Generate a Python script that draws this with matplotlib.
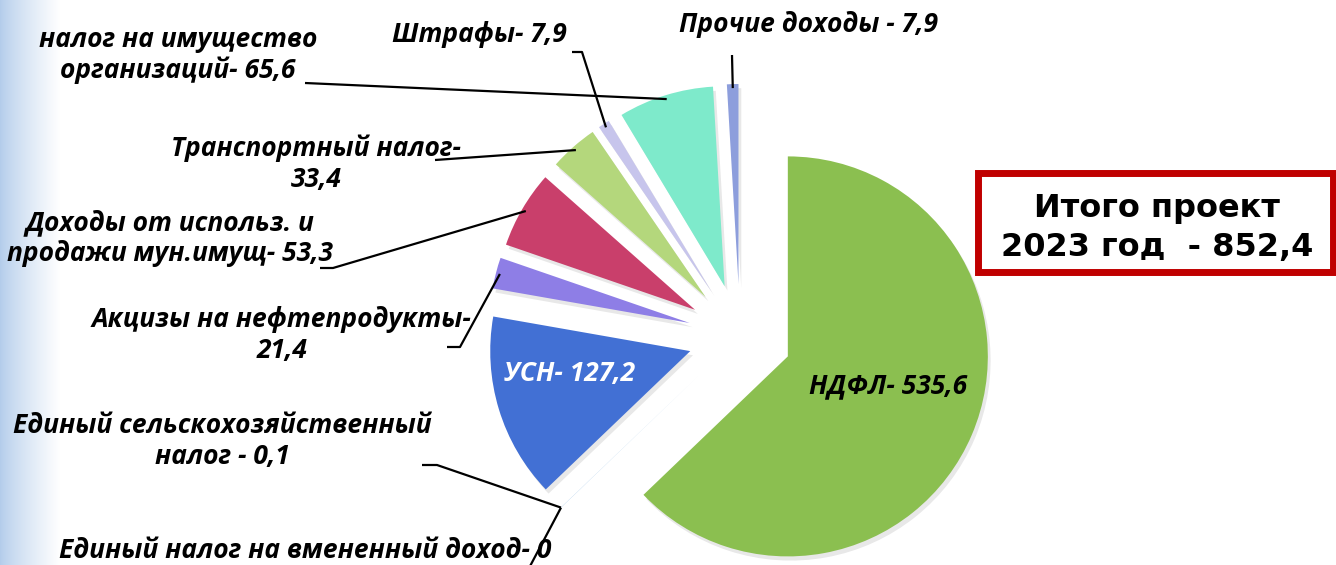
import numpy as np
import matplotlib
matplotlib.use("Agg")
import matplotlib.pyplot as plt
from matplotlib.patches import Rectangle
import matplotlib.patheffects as pe

# ---- data ----
categories = ["НДФЛ", "Единый налог на вмененный доход", "Единый сельскохозяйственный налог",
              "УСН", "Акцизы на нефтепродукты", "Доходы от использ. и продажи мун.имущ",
              "Транспортный налог", "Штрафы", "налог на имущество организаций", "Прочие доходы"]
values = [535.6, 0.0, 0.1, 127.2, 21.4, 53.3, 33.4, 7.9, 65.6, 7.9]
value_labels = ["535,6", "0", "0,1", "127,2", "21,4", "53,3", "33,4", "7,9", "65,6", "7,9"]
colors = ["#8BBF50", "#E07B39", "#5B9BD5", "#4270D4", "#8E7EE6", "#C93F6B",
          "#B4D77C", "#C7C5EC", "#7EEACB", "#8D9EDC"]
total_label = "Итого проект\n2023 год  - 852,4"

W, H = 1336, 565
CX, CY, R = 740, 336, 200  # pie centre / radius in pixels (layout)


def P(x, y):
    """pixel (from top-left) -> data units"""
    return ((x - CX) / R, (CY - y) / R)


fig = plt.figure(figsize=(W / 100, H / 100), dpi=100)
ax = fig.add_axes([0, 0, 1, 1])

# background gradient on the left edge
x0, y0 = P(0, H)
x1, y1 = P(60, 0)
grad = np.linspace(0, 1, 256)
c0 = np.array([0.70, 0.80, 0.92])
c1 = np.array([1.0, 1.0, 1.0])
t = np.clip(grad ** 0.8, 0, 1)
img = (c0[None, :] * (1 - t[:, None]) + c1[None, :] * t[:, None])[None, :, :]
ax.imshow(img, extent=(x0, x1, y0, y1), aspect="auto", zorder=0, interpolation="bilinear")

wedges, _ = ax.pie(values, colors=colors, startangle=90, counterclock=False,
                   explode=[0.26] * len(values), radius=1.0,
                   wedgeprops=dict(linewidth=0))
for w, v in zip(wedges, values):
    if v > 1:
        w.set_path_effects([pe.SimplePatchShadow(offset=(2, -3), shadow_rgbFace=(0.55, 0.55, 0.55),
                                                 alpha=0.2), pe.Normal()])

ax.set_xlim(P(0, 0)[0], P(W, 0)[0])
ax.set_ylim(P(0, H)[1], P(0, 0)[1])
ax.set_aspect("auto")
ax.axis("off")

FONT = ["Open Sans", "DejaVu Sans"]
lab_kw = dict(fontsize=19, fontweight="bold", fontstyle="italic", family=FONT,
              ha="center", va="center", linespacing=1.17, zorder=5)


def tip(i, frac=0.98):
    w = wedges[i]
    ang = np.deg2rad((w.theta1 + w.theta2) / 2)
    cx, cy = w.center
    return cx + w.r * frac * np.cos(ang), cy + w.r * frac * np.sin(ang)


def leader(i, pts_px, frac=0.98):
    pts = [P(*p) for p in pts_px] + [tip(i, frac)]
    xs, ys = zip(*pts)
    ax.plot(xs, ys, color="black", lw=1.6, zorder=4, solid_capstyle="butt")


# inside labels
ax.text(*P(570, 374), f"УСН- {value_labels[3]}", color="white", **lab_kw)
ax.text(*P(888, 386), f"НДФЛ- {value_labels[0]}", color="black", **lab_kw)

# outside labels with leader lines
ax.text(*P(178, 55), f"налог на имущество\nорганизаций- {value_labels[8]}", **lab_kw)
leader(8, [(305, 83)])

ax.text(*P(479, 34), f"Штрафы- {value_labels[7]}", **lab_kw)
leader(7, [(572, 52), (582, 52)])

ax.text(*P(808, 24), f"Прочие доходы - {value_labels[9]}", **lab_kw)
leader(9, [(732, 55)])

ax.text(*P(316, 164), f"Транспортный налог-\n{value_labels[6]}", **lab_kw)
leader(6, [(435, 160)])

ax.text(*P(170, 238), f"Доходы от использ. и\nпродажи мун.имущ- {value_labels[5]}", **lab_kw)
leader(5, [(320, 268), (333, 268)])

ax.text(*P(282, 335), f"Акцизы на нефтепродукты-\n{value_labels[4]}", **lab_kw)
leader(4, [(447, 347), (460, 347)])

ax.text(*P(222, 441), f"Единый сельскохозяйственный\nналог - {value_labels[2]}", **lab_kw)
leader(2, [(422, 465), (437, 465)])

ax.text(*P(305, 550), f"Единый налог на вмененный доход- {value_labels[1]}", **lab_kw)
leader(1, [(528, 570)])

# total box
bx0, by0 = P(978, 272)
bx1, by1 = P(1333, 173)
ax.add_patch(Rectangle((bx0, by0), bx1 - bx0, by1 - by0, facecolor="white",
                       edgecolor="#C00000", linewidth=5, zorder=5))
ax.text(*P(1157, 228), total_label, fontsize=23, fontweight="bold", family=["DejaVu Sans"],
        ha="center", va="center", linespacing=1.35, zorder=6)

fig.savefig("out.png", dpi=100)
